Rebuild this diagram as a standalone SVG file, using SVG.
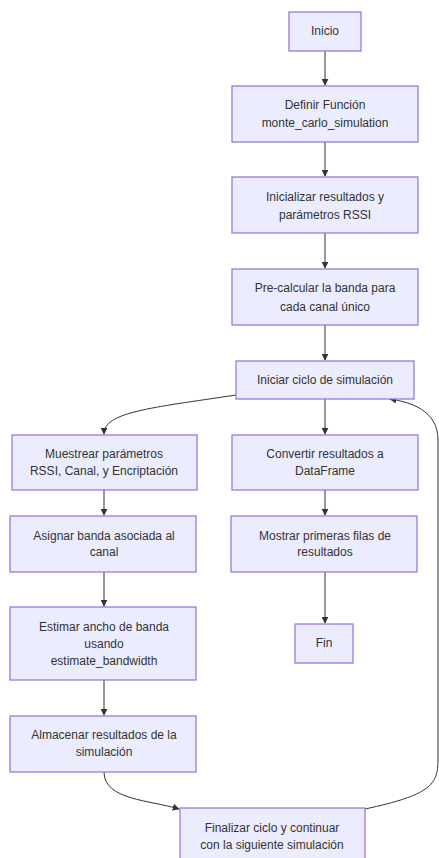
<svg xmlns="http://www.w3.org/2000/svg" width="439" height="858" viewBox="0 0 439 858">
<defs>
<marker id="arr" viewBox="0 0 10 10" refX="9" refY="5" markerWidth="7" markerHeight="7" orient="auto" markerUnits="userSpaceOnUse">
<path d="M0,0 L10,5 L0,10 z" fill="#333"/>
</marker>
<style>
.n rect{fill:#ECECFF;stroke:#9370DB;stroke-width:1.2}
.n text{font-family:"Liberation Sans",Arial,sans-serif;font-size:12px;fill:#333;text-anchor:middle}
.e path{fill:none;stroke:#333;stroke-width:1;marker-end:url(#arr)}
</style>
</defs>
<rect width="439" height="858" fill="#fff"/>
<g class="e" id="connectors">
<path d="M325,51 L325,85"/>
<path d="M325,142 L325,176"/>
<path d="M325,233 L325,268"/>
<path d="M325,325 L325,360"/>
<path d="M236,395 C150,408 104,412 104,434"/>
<path d="M325,399 L325,434"/>
<path d="M104,490 L104,515"/>
<path d="M325,490 L325,515"/>
<path d="M104,572 L104,606"/>
<path d="M325,572 L325,623"/>
<path d="M104,680 L104,715"/>
<path d="M104,772 C104,800 150,800 179,809"/>
<path d="M365,809 C430,795 438,785 438,760 L438,440 C438,410 410,402 390,399"/>
</g>
<g class="n" id="inicio"><rect x="289" y="12" width="72" height="39"/><text x="325" y="35">Inicio</text></g>
<g class="n" id="definir"><rect x="232" y="86" width="186" height="56"/><text x="325" y="109">Definir Función</text><text x="325" y="127">monte_carlo_simulation</text></g>
<g class="n" id="inicializar"><rect x="232" y="177" width="186" height="56"/><text x="325" y="201">Inicializar resultados y</text><text x="325" y="219">parámetros RSSI</text></g>
<g class="n" id="precalcular"><rect x="232" y="269" width="186" height="56"/><text x="325" y="292">Pre-calcular la banda para</text><text x="325" y="311">cada canal único</text></g>
<g class="n" id="iniciar"><rect x="236" y="361" width="178" height="38"/><text x="325" y="384">Iniciar ciclo de simulación</text></g>
<g class="n" id="muestrear"><rect x="12" y="435" width="185" height="55"/><text x="104" y="458">Muestrear parámetros</text><text x="104" y="475">RSSI, Canal, y Encriptación</text></g>
<g class="n" id="convertir"><rect x="232" y="435" width="186" height="55"/><text x="325" y="458">Convertir resultados a</text><text x="325" y="475">DataFrame</text></g>
<g class="n" id="asignar"><rect x="10" y="516" width="186" height="56"/><text x="104" y="540">Asignar banda asociada al</text><text x="104" y="556">canal</text></g>
<g class="n" id="mostrar"><rect x="231" y="516" width="186" height="56"/><text x="325" y="540">Mostrar primeras filas de</text><text x="325" y="556">resultados</text></g>
<g class="n" id="estimar"><rect x="10" y="607" width="186" height="73"/><text x="104" y="631">Estimar ancho de banda</text><text x="104" y="648">usando</text><text x="104" y="665">estimate_bandwidth</text></g>
<g class="n" id="fin"><rect x="295" y="624" width="58" height="39"/><text x="324" y="647">Fin</text></g>
<g class="n" id="almacenar"><rect x="10" y="716" width="186" height="56"/><text x="104" y="739">Almacenar resultados de la</text><text x="104" y="756">simulación</text></g>
<g class="n" id="finalizar"><rect x="180" y="808" width="185" height="56"/><text x="272" y="832">Finalizar ciclo y continuar</text><text x="272" y="849">con la siguiente simulación</text></g>
</svg>
